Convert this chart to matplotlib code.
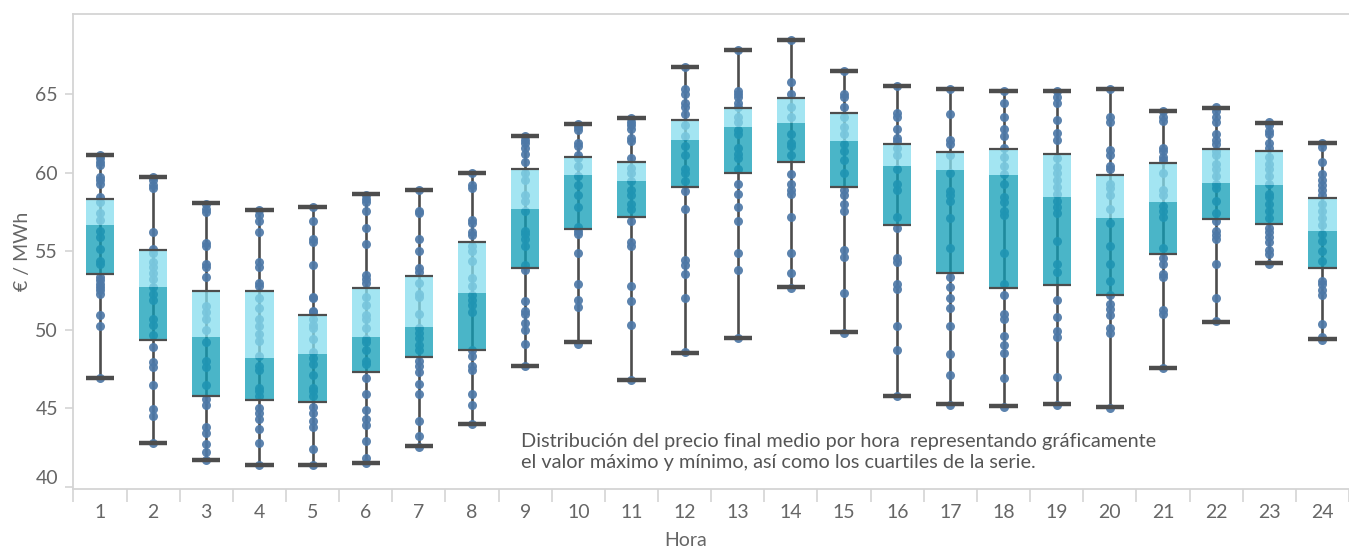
import numpy as np
import matplotlib
matplotlib.use('Agg')
from matplotlib import pyplot as plt

plt.rcParams['font.family'] = ['Lato', 'DejaVu Sans']

hours = list(range(1, 25))

# whisker / box stats per hour (min, Q1, median, Q3, max)
mins = [46.95, 42.77, 41.71, 41.38, 41.38, 41.51, 42.57, 43.97, 47.71, 49.18, 46.77, 48.53,
        49.49, 52.71, 49.82, 45.75, 45.27, 45.11, 45.27, 45.07, 47.58, 50.51, 54.27, 49.42]
q1s = [53.55, 49.37, 45.75, 45.51, 45.38, 47.33, 48.27, 48.73, 53.93, 56.40, 57.18, 59.07,
       59.95, 60.67, 59.07, 56.67, 53.62, 52.67, 52.87, 52.22, 54.84, 57.02, 56.73, 53.93]
medians = [56.69, 52.71, 49.51, 48.20, 48.44, 49.51, 50.17, 52.33, 57.71, 59.87, 59.49, 62.09,
           62.91, 63.15, 62.04, 60.44, 60.17, 59.87, 58.47, 57.09, 58.15, 59.35, 59.22, 56.31]
q3s = [58.33, 55.10, 52.47, 52.47, 50.93, 52.62, 53.40, 55.57, 60.24, 61.02, 60.69, 63.35,
       64.13, 64.75, 63.80, 61.84, 61.31, 61.53, 61.20, 59.82, 60.58, 61.51, 61.40, 58.40]
maxs = [61.09, 59.75, 58.04, 57.64, 57.84, 58.62, 58.91, 60.00, 62.35, 63.11, 63.49, 66.73,
        67.80, 68.44, 66.47, 65.51, 65.33, 65.20, 65.20, 65.33, 63.93, 64.13, 63.18, 61.91]

# daily average prices per hour (dots)
dots = [
    [61.1, 60.9, 60.7, 60.5, 59.7, 59.5, 59.3, 58.45, 58.1, 57.4, 57.0, 56.3, 55.9, 55.15, 54.4,
     54.2, 53.35, 53.15, 52.9, 52.7, 52.5, 52.3, 50.9, 50.2, 46.9],
    [59.7, 59.5, 59.2, 59.0, 56.2, 55.15, 54.85, 54.3, 54.0, 53.6, 53.25, 52.7, 52.3, 51.9, 50.7,
     50.3, 49.65, 48.9, 47.95, 47.6, 46.45, 44.95, 44.5, 42.75],
    [58.0, 57.7, 57.5, 55.5, 55.3, 54.2, 54.0, 53.35, 51.5, 51.1, 50.7, 50.0, 49.2, 48.0, 47.6,
     46.5, 45.6, 45.2, 43.8, 43.4, 42.7, 42.2, 41.7],
    [57.6, 57.3, 56.9, 56.2, 54.3, 54.0, 53.0, 52.8, 52.0, 51.4, 50.7, 50.2, 49.7, 49.3, 48.3,
     47.7, 47.4, 46.3, 46.1, 45.8, 45.0, 44.7, 44.3, 43.7, 42.8, 41.4],
    [57.8, 56.9, 55.8, 55.55, 54.1, 52.1, 52.0, 51.2, 51.1, 50.7, 50.3, 50.1, 49.4, 48.55, 48.2,
     47.8, 47.1, 46.3, 46.1, 45.8, 45.1, 44.7, 44.2, 43.8, 42.4, 41.4],
    [58.6, 58.3, 58.1, 57.55, 56.5, 55.45, 53.45, 53.2, 53.0, 52.1, 51.55, 50.9, 50.7, 50.1, 49.4,
     49.2, 48.7, 48.0, 47.8, 46.9, 45.9, 44.9, 44.3, 43.9, 42.9, 41.8, 41.5],
    [58.9, 57.55, 57.45, 55.8, 55.0, 53.9, 53.7, 53.0, 52.3, 52.1, 51.0, 50.1, 49.8, 49.45, 49.0,
     48.7, 48.0, 47.7, 47.3, 46.55, 45.9, 44.2, 43.2, 42.5],
    [60.0, 59.2, 59.0, 57.0, 56.8, 56.2, 56.0, 55.3, 55.0, 54.4, 53.3, 52.8, 52.2, 51.9, 51.55,
     51.1, 48.7, 48.3, 47.7, 47.4, 45.9, 45.2, 44.0],
    [62.35, 62.1, 61.9, 61.55, 61.2, 60.7, 60.0, 59.55, 58.55, 58.2, 57.55, 56.3, 56.1, 55.8, 55.3,
     54.1, 53.8, 51.8, 51.2, 51.0, 50.45, 50.0, 49.1, 47.7],
    [63.1, 62.9, 62.7, 61.9, 61.7, 61.1, 60.9, 60.45, 59.8, 59.2, 58.55, 57.8, 56.55, 56.3, 56.1,
     54.9, 52.9, 51.9, 51.45, 49.1],
    [63.5, 63.2, 63.0, 62.8, 62.2, 62.0, 60.9, 60.3, 60.0, 59.45, 58.9, 58.55, 58.0, 57.7, 56.9,
     55.55, 55.3, 52.8, 51.8, 50.3, 46.8],
    [66.7, 65.3, 65.0, 64.45, 64.2, 63.7, 63.0, 62.3, 61.7, 61.1, 60.2, 60.0, 59.45, 58.8, 57.7,
     54.45, 54.1, 53.55, 52.0, 48.55],
    [67.8, 65.2, 65.0, 64.8, 64.45, 64.2, 63.55, 63.2, 62.7, 62.45, 61.55, 61.2, 60.9, 60.2, 59.3,
     58.65, 57.8, 56.9, 54.9, 53.8, 49.45],
    [68.45, 65.8, 65.0, 64.2, 63.55, 62.45, 61.9, 61.7, 61.1, 59.9, 59.3, 58.9, 58.65, 57.2, 54.9,
     53.6, 52.65],
    [66.5, 65.0, 64.8, 64.2, 63.55, 62.9, 62.45, 61.8, 61.35, 60.8, 60.0, 58.9, 58.55, 58.0, 57.55,
     55.1, 54.65, 52.35, 49.8],
    [65.5, 63.8, 63.55, 62.8, 62.2, 62.0, 61.55, 61.1, 60.2, 59.3, 58.9, 57.2, 56.45, 54.55, 54.3,
     52.9, 52.6, 50.2, 48.7, 45.8],
    [65.3, 63.7, 62.1, 61.8, 61.1, 60.0, 58.8, 58.55, 58.2, 57.1, 55.2, 53.35, 52.7, 52.0, 51.35,
     50.2, 48.45, 47.1, 45.2],
    [65.2, 64.45, 63.55, 62.8, 62.35, 61.55, 61.0, 60.45, 59.9, 59.3, 58.45, 58.1, 57.55, 57.3, 54.9,
     52.9, 52.2, 51.0, 50.7, 49.6, 49.05, 48.5, 46.9, 45.1],
    [65.2, 64.8, 64.45, 63.35, 62.55, 62.1, 60.9, 60.35, 60.0, 59.55, 59.1, 58.65, 58.2, 57.8, 57.45,
     55.65, 54.2, 53.65, 51.9, 50.8, 49.9, 49.55, 47.0, 45.2],
    [65.3, 63.55, 63.2, 61.45, 61.1, 60.45, 60.2, 59.3, 59.0, 58.55, 57.65, 56.8, 55.35, 54.2, 53.1,
     52.2, 51.65, 51.3, 50.9, 50.1, 49.8, 45.0],
    [63.9, 63.55, 63.3, 61.55, 61.35, 61.0, 60.8, 60.0, 58.9, 58.55, 57.9, 57.55, 57.2, 55.2, 54.55,
     54.2, 53.55, 53.35, 51.25, 51.0, 47.55],
    [64.15, 63.9, 63.55, 63.2, 62.45, 62.1, 61.8, 61.35, 61.1, 60.55, 60.2, 59.8, 59.3, 59.0, 58.2,
     57.45, 56.9, 56.3, 56.0, 55.8, 54.2, 52.0, 50.55],
    [63.2, 63.0, 62.65, 62.45, 61.9, 61.55, 61.0, 60.55, 60.2, 59.8, 59.3, 58.65, 58.45, 58.0, 57.55,
     57.1, 56.45, 56.2, 55.9, 55.55, 55.1, 54.8, 54.2],
    [61.9, 61.65, 60.65, 59.9, 59.55, 59.2, 58.9, 58.55, 58.0, 57.55, 57.1, 56.65, 56.1, 55.65, 55.0,
     54.35, 53.1, 52.9, 52.55, 52.2, 50.35, 49.55, 49.35],
]

note = ('Distribución del precio final medio por hora  representando gráficamente\n'
        'el valor máximo y mínimo, así como los cuartiles de la serie.')

grey_txt = '#666666'
line_c = '#4d4d4d'
frame_c = '#d4d4d4'
box_w = 0.53

fig = plt.figure(figsize=(13.49, 5.5), dpi=100)
ax = fig.add_axes([73.4/1349, 61/550, 1 - 73.4/1349, 475/550])

h = np.array(hours)
ax.vlines(h, mins, maxs, color=line_c, lw=1.9, zorder=1)
for x, vals in zip(hours, dots):
    ax.scatter([x]*len(vals), vals, s=42, color='#4e79a7', alpha=0.92, lw=0, zorder=2)

lo = np.array(medians) - np.array(q1s)
hi = np.array(q3s) - np.array(medians)
ax.bar(h, lo, bottom=q1s, width=box_w, color='#119eb7', alpha=0.76, lw=0, zorder=3)
ax.bar(h, hi, bottom=medians, width=box_w, color='#86deee', alpha=0.76, lw=0, zorder=3)
ax.hlines(q1s, h - box_w/2, h + box_w/2, color=line_c, lw=1.6, zorder=4)
ax.hlines(q3s, h - box_w/2, h + box_w/2, color=line_c, lw=1.6, zorder=4)
ax.hlines(mins, h - box_w/2, h + box_w/2, color=line_c, lw=3.2, zorder=4)
ax.hlines(maxs, h - box_w/2, h + box_w/2, color=line_c, lw=3.2, zorder=4)

ax.set_xlim(0.5, 24.5)
ax.set_ylim(39.85, 70.1)
ax.set_yticks([40, 45, 50, 55, 60, 65])
ax.set_xticks(np.arange(0.5, 24.6, 1))
ax.set_xticklabels([])
ax.set_xticks(hours, minor=True)
ax.set_xticklabels([str(x) for x in hours], minor=True)
ax.tick_params(axis='x', which='major', length=9, color=frame_c, width=1.2)
ax.tick_params(axis='x', which='minor', length=0, pad=11, labelsize=14, labelcolor=grey_txt)
ax.tick_params(axis='y', length=6, color=frame_c, width=1.2, pad=5, labelsize=14, labelcolor=grey_txt)
for lab in ax.get_yticklabels():
    if lab.get_text() == '40':
        lab.set_va('bottom')

for s in ['left', 'top', 'bottom']:
    ax.spines[s].set_color(frame_c)
    ax.spines[s].set_linewidth(1.3)
ax.spines['right'].set_visible(False)

ax.set_ylabel('€ / MWh', fontsize=14, color=grey_txt, labelpad=3)
fig.text(686/1349, 1 - 541/550, 'Hora', ha='center', va='center', fontsize=14, color=grey_txt)
ax.text(8.93, 42.22, note, fontsize=14.3, color='#555555', ha='left', va='center', linespacing=1.3)

fig.savefig('out.png', dpi=100)
